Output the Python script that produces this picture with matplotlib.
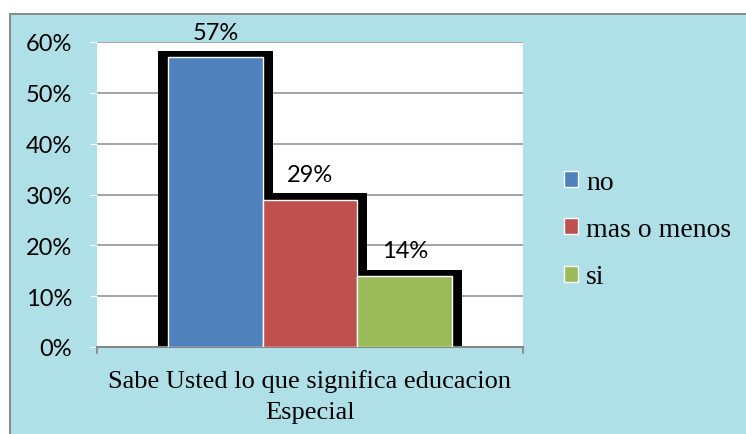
import matplotlib.pyplot as plt
from matplotlib.patches import Rectangle
from matplotlib.ticker import PercentFormatter

# datos
categoria = "Sabe Usted lo que significa educacion\nEspecial"
respuestas = ["no", "mas o menos", "si"]
valores = [0.57, 0.29, 0.14]
etiquetas = ["57%", "29%", "14%"]
colores = ["#4F81BD", "#C0504D", "#9BBB59"]
y_ticks = [0.0, 0.1, 0.2, 0.3, 0.4, 0.5, 0.6]

W, H = 746, 435
fig = plt.figure(figsize=(W / 100, H / 100), dpi=100)
fig.patch.set_facecolor("white")

# fondo del grafico (textura de gotas aproximada con color plano)
fondo = Rectangle((10 / W, -0.01), (W - 10) / W + 0.01, (H - 15) / H + 0.01,
                  transform=fig.transFigure, facecolor="#afe0e8",
                  edgecolor="#8c8c8c", linewidth=1.5, zorder=-5)
fig.patches.append(fondo)

ax = fig.add_axes([97 / W, 1 - 348 / H, (523 - 97) / W, (348 - 43) / H])
ax.set_facecolor("white")
ax.set_zorder(1)

x = list(range(len(valores)))
sombra_x = 0.105
sombra_y = 0.012

# sombra negra detras de las barras
for xi, v in zip(x, valores):
    ax.bar(xi, v + sombra_y, width=1 + 2 * sombra_x, color="black", zorder=2)

barras = ax.bar(x, valores, width=1.0, color=colores, edgecolor="white",
                linewidth=1, zorder=3)

for xi, v, lab in zip(x, valores, etiquetas):
    ax.annotate(lab, (xi, v), xytext=(0, 25), textcoords="offset pixels",
                ha="center", va="center", fontsize=17, family="Lato",
                annotation_clip=False, zorder=4)

ax.set_xlim(-1.25, 3.25)
ax.set_ylim(0, 0.6)
ax.set_yticks(y_ticks)
ax.yaxis.set_major_formatter(PercentFormatter(1.0, decimals=0))
ax.yaxis.grid(True, color="#959595", linewidth=1.2, zorder=1)
ax.set_axisbelow(True)
ax.tick_params(axis="y", length=5, color="white", pad=13, labelsize=17)
for t in ax.get_yticklabels():
    t.set_family("Lato")

ax.set_xticks([-1.25, 3.25])
ax.set_xticklabels(["", ""])
ax.tick_params(axis="x", length=5, color="#868686", width=1.2)

for s in ["top", "right", "left"]:
    ax.spines[s].set_visible(False)
ax.spines["bottom"].set_color("#868686")
ax.spines["bottom"].set_linewidth(1.5)

fig.text(310 / W, 1 - 397 / H, categoria, ha="center", va="center",
         fontsize=19, family="Liberation Serif", linespacing=1.55)

handles = [Rectangle((0, 0), 1, 1, facecolor=c, edgecolor="white", linewidth=1)
           for c in colores]
fig.legend(handles, respuestas, loc="upper left",
           bbox_to_anchor=(564 / W, 1 - 171 / H), frameon=False,
           prop={"family": "Liberation Serif", "size": 20},
           handlelength=0.5, handleheight=0.5, handletextpad=0.3,
           labelspacing=0.8, borderpad=0, borderaxespad=0)

fig.savefig("out.png", dpi=100)
